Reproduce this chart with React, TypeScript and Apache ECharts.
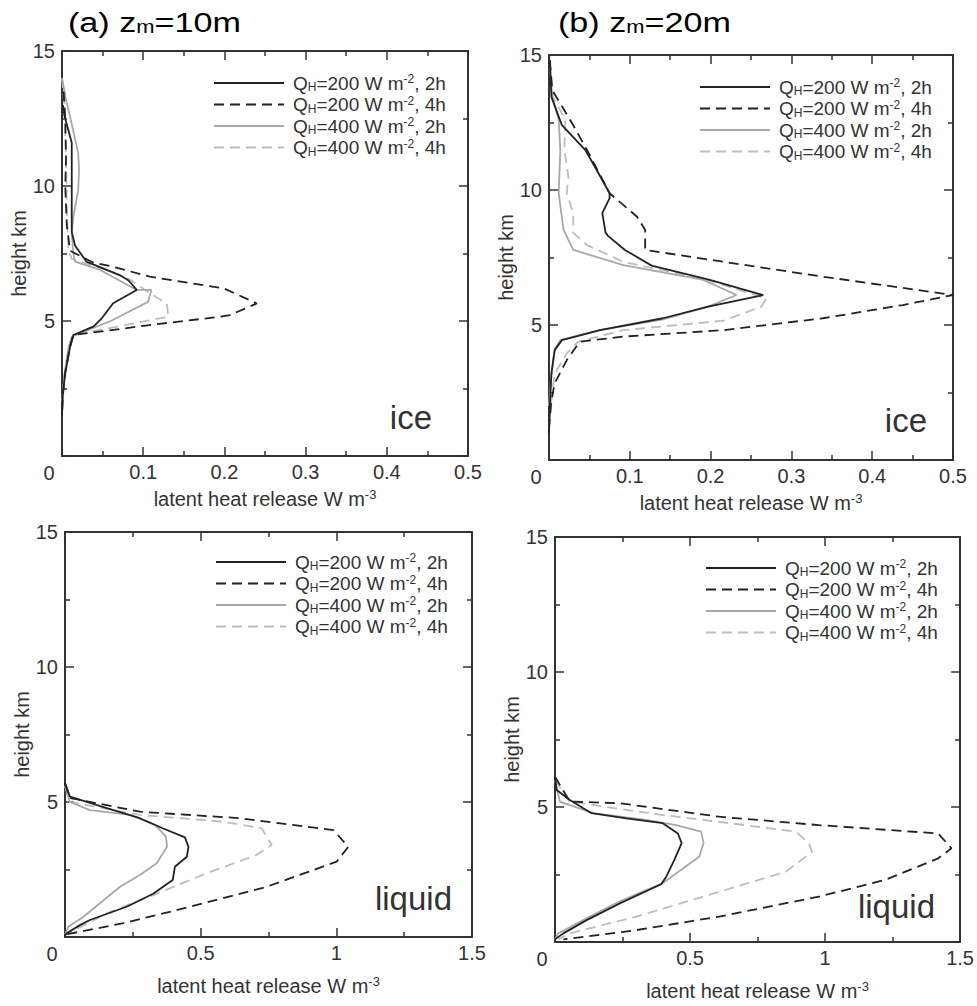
import React, { useEffect, useRef } from 'react';
import * as echarts from 'echarts';

const FONT = "'Liberation Sans', Arial, Helvetica, sans-serif";

// Legend entries
const SERIES_NAMES = ['QH=200 W m-2, 2h', 'QH=200 W m-2, 4h', 'QH=400 W m-2, 2h', 'QH=400 W m-2, 4h'];
const FLUX = ['200', '200', '400', '400'];
const HOURS = ['2h', '4h', '2h', '4h'];
const COLORS = ['#222222', '#222222', '#a8a8a8', '#bdbdbd'];
const DASHED = [false, true, false, true];

// Axis ticks
const Y_MAX = 15;
const Y_INTERVAL = 5;
const X_MAX_ICE = 0.5;
const X_INT_ICE = 0.1;
const X_MAX_LIQ = 1.5;
const X_INT_LIQ = 0.5;

// Panel titles and tags
const TITLES = [['(a) z', 'm', '=10m'], ['(b) z', 'm', '=20m']];
const TAGS = ['ice', 'ice', 'liquid', 'liquid'];

// (a) zm=10m, ice : [latent heat W m-3, height km]
const A_200_2H = [[0.001, 13.0], [0.003, 12.6], [0.012, 11.6], [0.012, 10.5], [0.012, 9.5], [0.012, 8.3], [0.016, 7.8], [0.030, 7.2], [0.071, 6.7], [0.082, 6.5], [0.092, 6.15], [0.063, 5.66], [0.049, 5.1], [0.039, 4.8], [0.014, 4.48], [0.010, 4.05], [0.004, 3.07], [0.001, 2.3], [0, 1.5]];
const A_200_4H = [[0.002, 13.5], [0.004, 12.5], [0.005, 11.0], [0.004, 10.0], [0.006, 8.5], [0.010, 7.6], [0.039, 7.16], [0.063, 7.01], [0.108, 6.64], [0.199, 6.21], [0.240, 5.65], [0.207, 5.22], [0.195, 5.16], [0.108, 4.85], [0.055, 4.64], [0.014, 4.48], [0.010, 4.05], [0.004, 3.1], [0.001, 2.2], [0, 1.5]];
const A_400_2H = [[0, 14.0], [0.005, 13.2], [0.012, 12.3], [0.020, 11.2], [0.021, 10.6], [0.020, 9.86], [0.014, 8.86], [0.012, 8.26], [0.014, 7.5], [0.016, 7.2], [0.047, 6.89], [0.092, 6.15], [0.110, 6.15], [0.106, 5.71], [0.060, 5.0], [0.012, 4.42], [0.008, 4.0], [0.003, 3.0], [0, 2.0]];
const A_400_4H = [[0, 14.0], [0.003, 13.0], [0.005, 11.0], [0.006, 9.0], [0.008, 7.6], [0.012, 7.3], [0.055, 6.89], [0.083, 6.55], [0.108, 6.03], [0.129, 5.65], [0.131, 5.16], [0.088, 4.91], [0.014, 4.48], [0.008, 4.0], [0.003, 3.0], [0, 2.0]];

// (b) zm=20m, ice
const B_200_2H = [[0.001, 14.8], [0.003, 13.45], [0.016, 12.4], [0.045, 11.48], [0.059, 10.74], [0.075, 9.88], [0.075, 9.7], [0.066, 9.14], [0.070, 8.42], [0.073, 8.3], [0.094, 7.78], [0.127, 7.2], [0.199, 6.67], [0.265, 6.11], [0.197, 5.68], [0.141, 5.25], [0.063, 4.81], [0.016, 4.44], [0.007, 4.07], [0.003, 3.2], [0.001, 1.97], [0, 1.0]];
const B_200_4H = [[0.001, 14.8], [0.004, 13.7], [0.016, 13.1], [0.030, 12.4], [0.047, 11.48], [0.075, 9.88], [0.109, 9.01], [0.119, 8.52], [0.119, 7.78], [0.216, 7.34], [0.339, 6.79], [0.5, 6.11], [0.438, 5.74], [0.339, 5.25], [0.216, 4.81], [0.092, 4.57], [0.038, 4.38], [0.022, 3.7], [0.007, 2.84], [0.003, 2.2], [0, 1.2]];
const B_400_2H = [[0.001, 14.6], [0.004, 13.45], [0.012, 12.6], [0.014, 11.48], [0.012, 9.88], [0.018, 8.52], [0.030, 7.78], [0.092, 7.22], [0.191, 6.67], [0.232, 6.11], [0.197, 5.68], [0.14, 5.2], [0.063, 4.81], [0.014, 4.44], [0.007, 4.07], [0.003, 3.2], [0, 2.0]];
const B_400_4H = [[0.001, 14.8], [0.005, 13.45], [0.020, 12.6], [0.019, 11.48], [0.024, 10.5], [0.022, 9.88], [0.030, 9.14], [0.030, 8.42], [0.047, 7.96], [0.092, 7.34], [0.195, 6.67], [0.269, 5.99], [0.263, 5.68], [0.216, 5.16], [0.092, 4.81], [0.036, 4.38], [0.022, 3.95], [0.007, 3.2], [0.002, 2.0], [0, 1.2]];

// (a) zm=10m, liquid
const C_200_2H = [[0, 5.7], [0.018, 5.2], [0.154, 4.77], [0.276, 4.4], [0.362, 4.02], [0.442, 3.69], [0.455, 3.34], [0.449, 2.97], [0.405, 2.6], [0.397, 2.11], [0.381, 2.0], [0.325, 1.6], [0.227, 1.12], [0.092, 0.63], [0.055, 0.44], [0.006, 0.14], [0, 0.05]];
const C_200_4H = [[0, 5.7], [0.018, 5.15], [0.276, 4.64], [0.645, 4.4], [0.989, 3.96], [1.044, 3.34], [1.001, 2.79], [0.743, 1.86], [0.461, 1.12], [0.215, 0.51], [0.006, 0.1]];
const C_400_2H = [[0, 5.6], [0.018, 5.0], [0.092, 4.7], [0.24, 4.52], [0.332, 4.15], [0.372, 3.72], [0.376, 3.34], [0.338, 2.73], [0.276, 2.3], [0.203, 1.86], [0.068, 0.75], [0.012, 0.38], [0, 0.1]];
const C_400_4H = [[0, 5.6], [0.018, 5.0], [0.276, 4.52], [0.584, 4.27], [0.725, 4.02], [0.762, 3.41], [0.706, 3.04], [0.522, 2.36], [0.338, 1.6], [0.154, 0.88], [0.006, 0.1]];

// (b) zm=20m, liquid
const D_200_2H = [[0, 6.12], [0.006, 5.63], [0.055, 5.26], [0.135, 4.77], [0.264, 4.58], [0.399, 4.4], [0.455, 4.02], [0.469, 3.66], [0.442, 3.04], [0.412, 2.42], [0.393, 2.14], [0.240, 1.43], [0.117, 0.81], [0.031, 0.32], [0, 0.1]];
const D_200_4H = [[0, 6.12], [0.055, 5.2], [0.240, 5.14], [0.608, 4.64], [0.977, 4.33], [1.419, 4.02], [1.468, 3.47], [1.419, 3.1], [1.223, 2.3], [0.977, 1.68], [0.608, 0.94], [0.301, 0.44], [0.031, 0.1]];
const D_400_2H = [[0, 6.0], [0.018, 5.2], [0.141, 4.77], [0.338, 4.52], [0.448, 4.33], [0.541, 4.09], [0.55, 3.66], [0.534, 3.16], [0.448, 2.54], [0.399, 2.18], [0.240, 1.51], [0.117, 0.88], [0.012, 0.32], [0, 0.1]];
const D_400_4H = [[0, 6.0], [0.055, 5.2], [0.362, 4.75], [0.608, 4.45], [0.891, 4.09], [0.940, 3.66], [0.952, 3.34], [0.854, 2.6], [0.608, 1.86], [0.301, 0.94], [0.055, 0.32], [0.012, 0.1]];

const PANEL_DATA = [
  [A_200_2H, A_200_4H, A_400_2H, A_400_4H],
  [B_200_2H, B_200_4H, B_400_2H, B_400_4H],
  [C_200_2H, C_200_4H, C_400_2H, C_400_4H],
  [D_200_2H, D_200_4H, D_400_2H, D_400_4H],
];

// layout
const GRIDS = [
  { left: 62, top: 51, width: 406, height: 405 },
  { left: 549, top: 55, width: 404, height: 405 },
  { left: 65, top: 532, width: 407, height: 405 },
  { left: 555, top: 537, width: 407, height: 405 },
];
const LEGEND_POS = [
  { left: 213, top: 73 },
  { left: 699, top: 77 },
  { left: 215, top: 552 },
  { left: 705, top: 558 },
];
const X_NAME_GAP = [32, 32, 38, 38];
const TAG_POS = [
  { x: 432, y: 417 },
  { x: 927, y: 420 },
  { x: 452, y: 898 },
  { x: 935, y: 906 },
];
const TITLE_POS = [
  { x: 68, y: 23 },
  { x: 558, y: 23 },
];

const AXIS_COLOR = '#333';

function buildOption() {
  const grid: any[] = [];
  const xAxis: any[] = [];
  const yAxis: any[] = [];
  const series: any[] = [];
  const legend: any[] = [];
  const graphic: any[] = [];

  const lineStyle = { color: AXIS_COLOR, width: 2 };
  const tickStyle = { color: AXIS_COLOR, width: 1.5 };

  GRIDS.forEach((g, p) => {
    grid.push({ ...g, containLabel: false });
    const isIce = p < 2;
    const xMax = isIce ? X_MAX_ICE : X_MAX_LIQ;
    const xInt = isIce ? X_INT_ICE : X_INT_LIQ;
    const common = {
      gridIndex: p,
      type: 'value',
      axisLine: { show: true, onZero: false, lineStyle },
      axisTick: { show: true, inside: true, length: 9, lineStyle: tickStyle },
      minorTick: { show: true, splitNumber: 2, length: 5, lineStyle: tickStyle },
      splitLine: { show: false },
      minorSplitLine: { show: false },
    };
    const labelStyle = { fontSize: 20, color: AXIS_COLOR, fontFamily: FONT };
    xAxis.push({
      ...common,
      min: 0,
      max: xMax,
      interval: xInt,
      position: 'bottom',
      axisLabel: {
        ...labelStyle,
        margin: 6,
        formatter: (v: number) => (v === 0 ? '' : String(Math.round(v * 100) / 100)),
      },
      name: '{n|latent heat release W m}{s|-3}',
      nameLocation: 'middle',
      nameGap: X_NAME_GAP[p],
      nameTextStyle: {
        fontFamily: FONT,
        color: AXIS_COLOR,
        rich: {
          n: { fontSize: 20, fontFamily: FONT, color: AXIS_COLOR, lineHeight: 22 },
          s: { fontSize: 13, fontFamily: FONT, color: AXIS_COLOR, lineHeight: 13, verticalAlign: 'top' },
        },
      },
    });
    xAxis.push({
      ...common,
      min: 0,
      max: xMax,
      interval: xInt,
      position: 'top',
      axisLabel: { show: false },
    });
    yAxis.push({
      ...common,
      min: 0,
      max: Y_MAX,
      interval: Y_INTERVAL,
      position: 'left',
      axisLabel: {
        ...labelStyle,
        margin: 7,
        formatter: (v: number) => (v === 0 ? '' : String(v)),
      },
      name: 'height km',
      nameLocation: 'middle',
      nameGap: 33,
      nameTextStyle: { fontSize: 20, fontFamily: FONT, color: AXIS_COLOR },
    });
    yAxis.push({
      ...common,
      min: 0,
      max: Y_MAX,
      interval: Y_INTERVAL,
      position: 'right',
      axisLabel: { show: false },
    });

    PANEL_DATA[p].forEach((data, k) => {
      series.push({
        type: 'line',
        name: SERIES_NAMES[k],
        xAxisIndex: 2 * p,
        yAxisIndex: 2 * p,
        data,
        symbol: 'none',
        showSymbol: false,
        clip: true,
        lineStyle: { color: COLORS[k], width: 1.8, type: DASHED[k] ? [10, 6] : 'solid' },
        itemStyle: { color: COLORS[k] },
        z: 10 - k,
      });
    });

    legend.push({
      ...LEGEND_POS[p],
      orient: 'vertical',
      padding: 0,
      itemWidth: 70,
      itemHeight: 14,
      itemGap: 1.5,
      data: SERIES_NAMES,
      selectedMode: false,
      itemStyle: { opacity: 0, borderWidth: 0 },
      formatter: (name: string) => {
        const i = SERIES_NAMES.indexOf(name);
        return `{n|Q}{sub|H}{n|=${FLUX[i]} W m}{sup|-2}{n|, ${HOURS[i]}}`;
      },
      textStyle: {
        fontFamily: FONT,
        color: AXIS_COLOR,
        padding: [0, 0, 0, 4],
        rich: {
          n: { fontSize: 19, lineHeight: 20, fontFamily: FONT, color: AXIS_COLOR },
          sub: { fontSize: 12, lineHeight: 12, fontFamily: FONT, color: AXIS_COLOR, verticalAlign: 'bottom' },
          sup: { fontSize: 12, lineHeight: 12, fontFamily: FONT, color: AXIS_COLOR, verticalAlign: 'top' },
        },
      },
    });

    // corner zero label
    graphic.push({
      type: 'text',
      x: g.left - 13,
      y: g.top + g.height + 17,
      style: { text: '0', font: `20px ${FONT}`, fill: AXIS_COLOR, align: 'center', verticalAlign: 'middle' },
    });
    // ice / liquid tag
    graphic.push({
      type: 'text',
      x: TAG_POS[p].x,
      y: TAG_POS[p].y,
      style: { text: TAGS[p], font: `33px ${FONT}`, fill: AXIS_COLOR, align: 'right', verticalAlign: 'middle' },
    });
  });

  TITLES.forEach((t, i) => {
    graphic.push({
      type: 'text',
      x: TITLE_POS[i].x,
      y: TITLE_POS[i].y,
      scaleX: 1.22,
      style: {
        text: `{a|${t[0]}}{s|${t[1]}}{a|${t[2]}}`,
        align: 'left',
        verticalAlign: 'middle',
        rich: {
          a: { fontSize: 28, fontFamily: FONT, color: '#222', lineHeight: 32 },
          s: { fontSize: 18, fontFamily: FONT, color: '#222', lineHeight: 18, verticalAlign: 'bottom', padding: [0, 0, 3, 0] },
        },
      },
    });
  });

  return {
    animation: false,
    backgroundColor: '#ffffff',
    grid,
    xAxis,
    yAxis,
    series,
    legend,
    graphic,
  };
}

export default function App() {
  const ref = useRef<HTMLDivElement>(null);
  useEffect(() => {
    if (!ref.current) return;
    const chart = echarts.init(ref.current, undefined, { renderer: 'svg' });
    chart.setOption(buildOption() as any);
    return () => chart.dispose();
  }, []);
  return <div ref={ref} style={{ position: 'absolute', left: 0, top: 0, width: 977, height: 1006 }} />;
}
